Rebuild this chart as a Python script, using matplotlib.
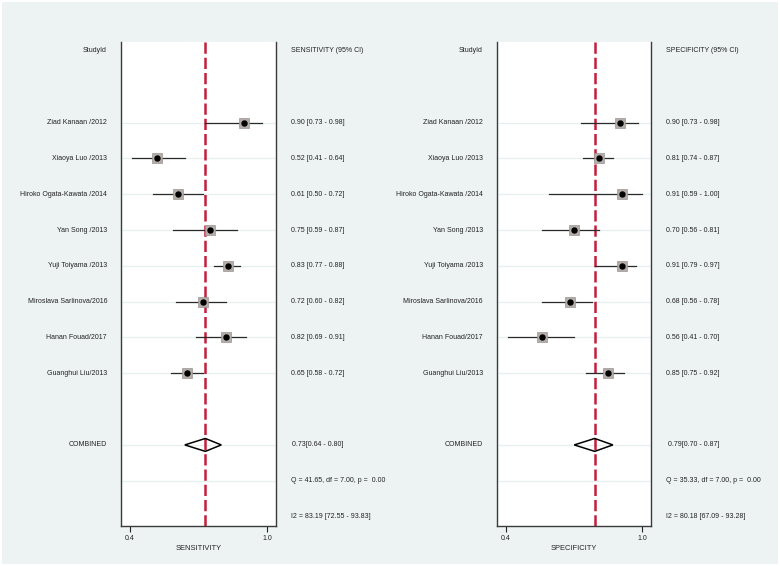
import matplotlib
matplotlib.use("Agg")
import matplotlib.pyplot as plt
from matplotlib.patches import Polygon, Rectangle

plt.rcParams["font.family"] = ["Liberation Sans", "DejaVu Sans"]

studies = ["Ziad Kanaan /2012", "Xiaoya Luo /2013", "Hiroko Ogata-Kawata /2014",
           "Yan Song /2013", "Yuji Toiyama /2013", "Miroslava Sarlinova/2016",
           "Hanan Fouad/2017", "Guanghui Liu/2013"]

sens = [0.90, 0.52, 0.61, 0.75, 0.83, 0.72, 0.82, 0.65]
sens_lo = [0.73, 0.41, 0.50, 0.59, 0.77, 0.60, 0.69, 0.58]
sens_hi = [0.98, 0.64, 0.72, 0.87, 0.88, 0.82, 0.91, 0.72]
sens_comb = [0.73, 0.64, 0.80]
sens_q = "Q = 41.65, df = 7.00, p =  0.00"
sens_i2 = "I2 = 83.19 [72.55 - 93.83]"

spec = [0.90, 0.81, 0.91, 0.70, 0.91, 0.68, 0.56, 0.85]
spec_lo = [0.73, 0.74, 0.59, 0.56, 0.79, 0.56, 0.41, 0.75]
spec_hi = [0.98, 0.87, 1.00, 0.81, 0.97, 0.78, 0.70, 0.92]
spec_comb = [0.79, 0.70, 0.87]
spec_q = "Q = 35.33, df = 7.00, p =  0.00"
spec_i2 = "I2 = 80.18 [67.09 - 93.28]"

W, H = 780, 566
fig = plt.figure(figsize=(W / 100, H / 100), dpi=100, facecolor="white")
fig.patches.append(Rectangle((2 / W, 2 / H), 1 - 4 / W, 1 - 4 / H, transform=fig.transFigure,
                             facecolor="#edf3f3", edgecolor="none", zorder=-10))

txt = dict(fontsize=5, color="#222222")
red = "#c41e3a"


def panel(x0, x1, vals, lo, hi, comb, q, i2, name):
    ax = fig.add_axes([x0 / W, 1 - 525.5 / H, (x1 - x0) / W, 483.5 / H])
    ax.set_facecolor("white")
    ax.set_xlim(0.36, 1.04)
    ax.set_ylim(13.25, -0.25)
    rows = list(range(2, 2 + len(vals)))
    for r in rows + [11, 12]:
        ax.axhline(r, color="#e6f0f1", lw=0.9, zorder=0)
    ax.axvline(comb[0], color=red, lw=1.8, ls=(0, (4.5, 1.6)), zorder=1)
    for r, v, l, h in zip(rows, vals, lo, hi):
        ax.plot([l, h], [r, r], color="#2a2a2a", lw=0.9, zorder=2)
        ax.plot(v, r, marker="s", ms=6.5, color="#b3aca9", mec="#9b9491", mew=0.5, zorder=3)
        ax.plot(v, r, marker="o", ms=3.6, color="black", zorder=4)
    dh = 0.18
    ax.add_patch(Polygon([[comb[1], 11], [comb[0], 11 - dh], [comb[2], 11], [comb[0], 11 + dh]],
                         closed=True, facecolor="none", edgecolor="black", lw=1.1, zorder=3))
    for s in ["left", "right", "bottom"]:
        ax.spines[s].set_color("#3a3a3a")
        ax.spines[s].set_linewidth(1.0)
    ax.spines["top"].set_visible(False)
    ax.set_yticks([])
    ax.set_xticks([0.4, 1.0])
    ax.set_xticklabels(["0.4", "1.0"])
    ax.tick_params(axis="x", length=4, width=0.8, labelsize=5, colors="#222222", pad=2.5)
    ax.set_xlabel(name, fontsize=5.4, color="#222222", labelpad=2.5)

    # left labels and right summaries
    lx = -14 / (x1 - x0)
    rx = 1 + 15 / (x1 - x0)
    tr = ax.get_yaxis_transform()
    ax.text(lx, 0, "StudyId", ha="right", va="center", transform=tr, **txt)
    ax.text(rx, 0, name + " (95% CI)", ha="left", va="center", transform=tr, **txt)
    for r, s, v, l, h in zip(rows, studies, vals, lo, hi):
        ax.text(lx, r, s, ha="right", va="center", transform=tr, **txt)
        ax.text(rx, r, f"{v:.2f} [{l:.2f} - {h:.2f}]", ha="left", va="center", transform=tr, **txt)
    ax.text(lx, 11, "COMBINED", ha="right", va="center", transform=tr, **txt)
    ax.text(rx + 1.5 / (x1 - x0), 11, f"{comb[0]:.2f}[{comb[1]:.2f} - {comb[2]:.2f}]",
            ha="left", va="center", transform=tr, **txt)
    ax.text(rx, 12, q, ha="left", va="center", transform=tr, **txt)
    ax.text(rx, 13, i2, ha="left", va="center", transform=tr, **txt)


panel(121, 276, sens, sens_lo, sens_hi, sens_comb, sens_q, sens_i2, "SENSITIVITY")
panel(497, 651.5, spec, spec_lo, spec_hi, spec_comb, spec_q, spec_i2, "SPECIFICITY")

fig.savefig("out.png", dpi=100, facecolor=fig.get_facecolor())
